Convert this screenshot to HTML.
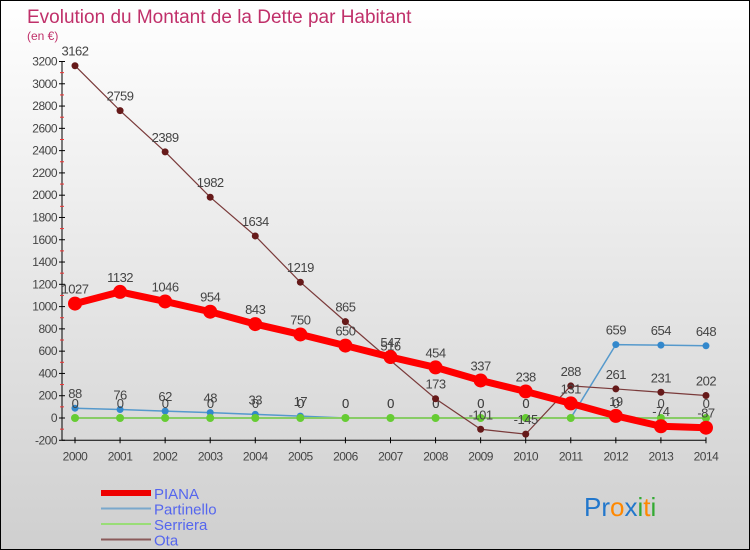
<!DOCTYPE html>
<html><head><meta charset="utf-8"><style>
body{margin:0}
#c{width:750px;height:550px;position:relative;box-sizing:border-box;border:1px solid #000;background:linear-gradient(#fff,#cfcfcf);font-family:"Liberation Sans",sans-serif;overflow:hidden}
</style></head><body>
<div id="c">
<svg id="s" width="748" height="548" style="position:absolute;left:0;top:0"></svg>
</div>
<script>
const years=[2000,2001,2002,2003,2004,2005,2006,2007,2008,2009,2010,2011,2012,2013,2014];
const piana=[1027,1132,1046,954,843,750,650,547,454,337,238,131,19,-74,-87];
const partinello=[88,76,62,48,33,17,0,0,0,0,0,0,659,654,648];
const serriera=[0,0,0,0,0,0,0,0,0,0,0,0,0,0,0];
const ota=[3162,2759,2389,1982,1634,1219,865,516,173,-101,-145,288,261,231,202];
const yTicks=[-200,0,200,400,600,800,1000,1200,1400,1600,1800,2000,2200,2400,2600,2800,3000,3200];
const NS='http://www.w3.org/2000/svg';
const s=document.getElementById('s');
const X=i=>74+i*45.07;
const Y=v=>417-v*(356.5/3200);
function el(t,a,p){const e=document.createElementNS(NS,t);for(const k in a)e.setAttribute(k,a[k]);(p||s).appendChild(e);return e;}
let t=el('text',{x:26,y:22,'font-size':19,fill:'#c0306a'});t.textContent='Evolution du Montant de la Dette par Habitant';

t=el('text',{x:26,y:39,'font-size':12,fill:'#c0306a'});t.textContent='(en €)';

let a=el('line',{x1:61,y1:Y(3200),x2:61,y2:Y(-200),stroke:'#000'});

a=el('line',{x1:61,y1:Y(-200),x2:X(14),y2:Y(-200),stroke:'#000'});

yTicks.forEach((v,i)=>{
 el('line',{x1:58,x2:64,y1:Y(v),y2:Y(v),stroke:'#000'});
 if(i<yTicks.length-1)el('line',{x1:59,x2:63,y1:Y(v+100),y2:Y(v+100),stroke:'#e33'});
 const l=el('text',{x:56,y:Y(v)+4,'font-size':12,fill:'#444','text-anchor':'end','letter-spacing':'-0.5'});l.textContent=v;
 
});
years.forEach((yr,i)=>{
 el('line',{x1:X(i),x2:X(i),y1:Y(-200)-3,y2:Y(-200)+3,stroke:'#000'});
 const l=el('text',{x:X(i),y:Y(-200)+20,'font-size':12,fill:'#444','text-anchor':'middle','letter-spacing':'-0.5'});l.textContent=yr;
 
});
function series(name,data,color,w,r,dot,showLbl){
 const g=el('g',{});
 
 el('polyline',{points:data.map((v,i)=>X(i)+','+Y(v)).join(' '),fill:'none',stroke:color,'stroke-width':w},g);
 data.forEach((v,i)=>{
  const c=el('circle',{cx:X(i),cy:Y(v),r:r,fill:dot},g);
  
  if(showLbl){const l=el('text',{x:X(i),y:Y(v)-10,'font-size':13,fill:'#444','text-anchor':'middle','letter-spacing':'-0.5'},g);l.textContent=v;
  }
 });
}
series('partinello',partinello,'#5599cc',1.5,3.5,'#3388cc',true);
series('serriera',serriera,'#88cc66',2,4,'#66cc33',true);
series('ota',ota,'#7a3a3a',1.2,3.5,'#661a1a',true);
series('piana',piana,'#ff0000',7,7,'#ff0000',true);
const leg=[['PIANA','#ee0000',6],['Partinello','#7aa8cc',2],['Serriera','#99dd77',2],['Ota','#8a5a5a',2]];
leg.forEach((d,i)=>{
 const g=el('g',{});
 const y=492+i*15.5;
 el('line',{x1:100,x2:150,y1:y,y2:y,stroke:d[1],'stroke-width':d[2]},g);
 const l=el('text',{x:153,y:y+6,'font-size':15,fill:'#5566ee'},g);l.textContent=d[0];
});
const lg=el('text',{x:583,y:515,'font-size':26});

[['Pr','#2277cc'],['o','#ff8800'],['x','#2277cc'],['i','#33aa33'],['t','#ff8800'],['i','#33aa33']].forEach(p=>{const ts=el('tspan',{fill:p[1]},lg);ts.textContent=p[0];});
</script>
</body></html>
